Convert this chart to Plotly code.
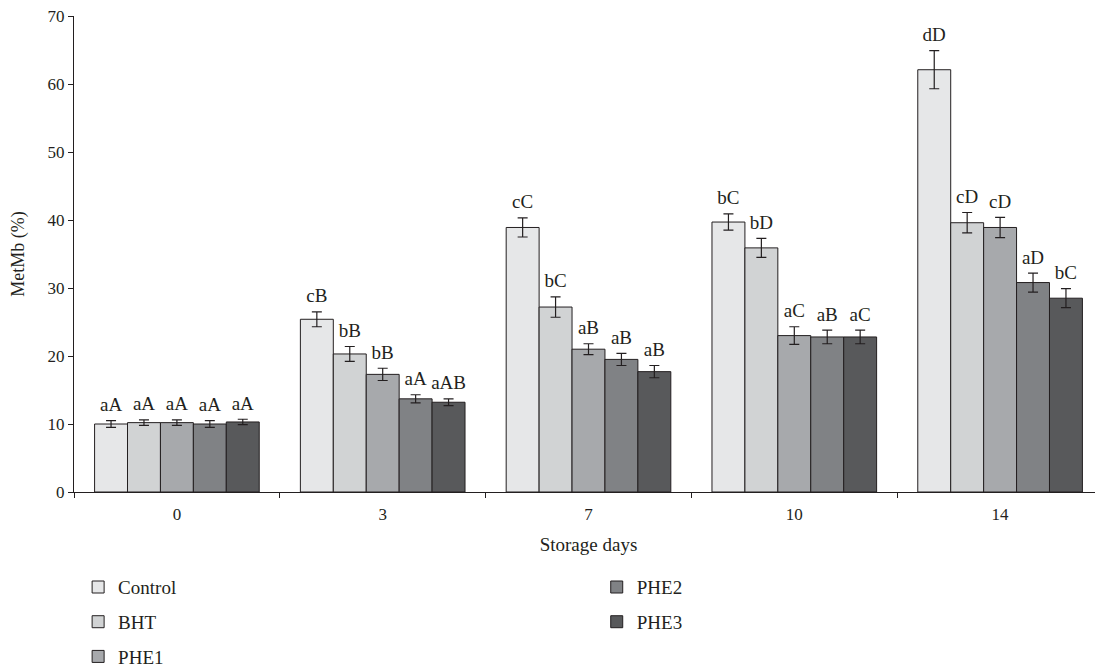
import plotly.graph_objects as go

days = ["0", "3", "7", "10", "14"]
series_names = ["Control", "BHT", "PHE1", "PHE2", "PHE3"]

control = [10.0, 25.4, 38.9, 39.7, 62.1]
bht = [10.2, 20.3, 27.2, 35.9, 39.6]
phe1 = [10.2, 17.3, 21.0, 23.0, 38.9]
phe2 = [10.0, 13.7, 19.5, 22.8, 30.8]
phe3 = [10.3, 13.2, 17.7, 22.8, 28.5]

control_err = [0.5, 1.1, 1.4, 1.2, 2.8]
bht_err = [0.4, 1.1, 1.5, 1.4, 1.5]
phe1_err = [0.4, 0.9, 0.8, 1.3, 1.5]
phe2_err = [0.5, 0.6, 0.9, 1.0, 1.4]
phe3_err = [0.4, 0.5, 0.9, 1.0, 1.4]

control_lbl = ["aA", "cB", "cC", "bC", "dD"]
bht_lbl = ["aA", "bB", "bC", "bD", "cD"]
phe1_lbl = ["aA", "bB", "aB", "aC", "cD"]
phe2_lbl = ["aA", "aA", "aB", "aB", "aD"]
phe3_lbl = ["aA", "aAB", "aB", "aC", "bC"]

values = [control, bht, phe1, phe2, phe3]
errors = [control_err, bht_err, phe1_err, phe2_err, phe3_err]
labels = [control_lbl, bht_lbl, phe1_lbl, phe2_lbl, phe3_lbl]
colors = ["#e6e7e8", "#d1d3d4", "#a7a9ac", "#808285", "#58595b"]
legend_ids = ["legend", "legend", "legend", "legend2", "legend2"]

FONT = "Liberation Serif, Times New Roman, serif"
INK = "#231f20"

fig = go.Figure()
for i, name in enumerate(series_names):
    fig.add_trace(go.Bar(
        x=days, y=values[i], name=name,
        offsetgroup=str(i),
        marker=dict(color=colors[i], line=dict(color=INK, width=1)),
        error_y=dict(type="data", array=errors[i], visible=True,
                     color=INK, thickness=1.2, width=5),
        legend=legend_ids[i], legendgroup=name,
    ))
for i, name in enumerate(series_names):
    fig.add_trace(go.Scatter(
        x=days, y=[v + e for v, e in zip(values[i], errors[i])],
        text=labels[i], mode="markers+text", textposition="top center",
        marker=dict(size=6, opacity=0),
        textfont=dict(family=FONT, size=19, color=INK),
        offsetgroup=str(i), showlegend=False, hoverinfo="skip",
        cliponaxis=False,
    ))

# page body adds an 8px margin, so the figure is 8px smaller on each axis
fig.update_layout(
    width=1095, height=661,
    margin=dict(l=66, r=0, t=8, b=177, autoexpand=False),
    paper_bgcolor="white", plot_bgcolor="white",
    barmode="group", scattermode="group",
    bargap=0.2, bargroupgap=0,
    font=dict(family=FONT, size=16, color=INK),
    xaxis=dict(
        type="category", tickson="boundaries", ticks="outside", ticklen=5,
        tickcolor=INK, showline=True, linecolor=INK, linewidth=1,
        showgrid=False, tickfont=dict(size=17), ticklabelstandoff=7,
        title=dict(text="Storage days", font=dict(size=19), standoff=14),
    ),
    yaxis=dict(
        range=[0, 70], dtick=10, ticks="outside", ticklen=5, tickcolor=INK,
        showline=True, linecolor=INK, linewidth=1, showgrid=False,
        zeroline=False, tickfont=dict(size=17), ticklabeloverflow="allow",
        title=dict(text="MetMb (%)", font=dict(size=18), standoff=18),
    ),
    legend=dict(
        x=0.004, y=-0.16, xanchor="left", yanchor="top",
        font=dict(size=19), tracegroupgap=7, traceorder="grouped",
        bgcolor="rgba(0,0,0,0)",
    ),
    legend2=dict(
        x=0.508, y=-0.16, xanchor="left", yanchor="top",
        font=dict(size=19), tracegroupgap=7, traceorder="grouped",
        bgcolor="rgba(0,0,0,0)",
    ),
    showlegend=True,
)

fig.write_html("out.html")
